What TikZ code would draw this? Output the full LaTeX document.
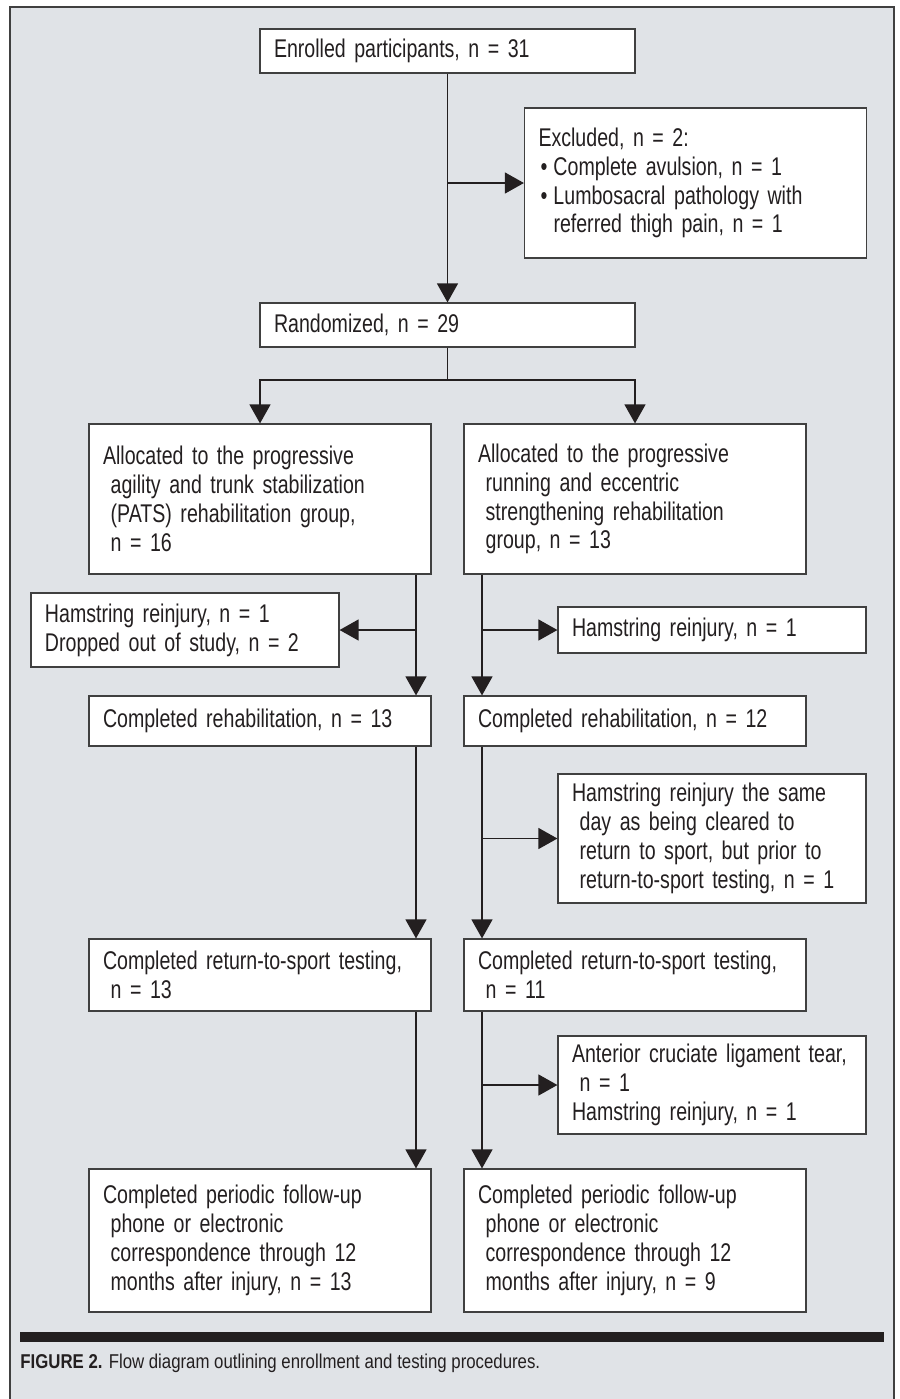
\documentclass[tikz,border=0pt]{standalone}
\usepackage{fontspec}
\setmainfont{Liberation Sans}[FakeStretch=0.765]
\newfontfamily\legfont{Liberation Sans}[FakeStretch=0.84]
\usetikzlibrary{arrows.meta,calc}

\definecolor{fond}{RGB}{224,227,231}
\definecolor{trait}{RGB}{35,31,32}
\definecolor{bord}{RGB}{64,64,64}
\newcommand{\lpad}{\hspace*{.3em}}
\newcommand{\puce}{\hspace*{1pt}\makebox[6.5pt][l]{•}}

\begin{document}
\begin{tikzpicture}[x=0.5pt,y=-0.5pt,>={Triangle[length=9.5pt,width=10.5pt]},
	boite/.style={draw=bord,line width=0.6pt,fill=white,text=trait,align=left,
		inner xsep=7pt,inner ysep=0pt,font=\fontsize{12.8}{14.4}\selectfont},
	large/.style={boite,text width=173.5pt},
	moyen/.style={boite,text width=157pt},
	petit/.style={boite,text width=140pt},
	fleche/.style={draw=trait,line width=0.65pt}]
			          %pixels de l'image : x vers la droite, y vers le bas
			          %\draw[help lines] (0,0) grid[step=100] (900,1399);
			          \useasboundingbox (0,0) rectangle (900,1399);
			          \draw[draw=bord,fill=fond,line width=0.6pt] (10,7) rectangle (894,1420);
			          
			          \node[large,minimum height=22pt] (enr) at (447.5,51) {Enrolled participants, n = 31};
			          \node[moyen,minimum height=75pt] (excl) at (695.5,183) {Excluded, n = 2:\\
			          	\puce Complete avulsion, n = 1\\
			          	\puce Lumbosacral pathology with\\
			          	\hspace*{7.5pt}referred thigh pain, n = 1};
			          \node[large,minimum height=22pt] (rand) at (447.5,325) {Randomized, n = 29};
			          
			          % groupe PATS (gauche)
			          \node[moyen,minimum height=75pt] (allocA) at (260,499) {Allocated to the progressive\\
			          	\lpad agility and trunk stabilization\\ \lpad (PATS) rehabilitation group,\\ \lpad n = 16};
			          \node[petit,minimum height=37pt] (dropA) at (185,630) {Hamstring reinjury, n = 1\\ Dropped out of study, n = 2};
			          \node[moyen,minimum height=25pt] (rehabA) at (260,721) {Completed rehabilitation, n = 13};
			          \node[moyen,minimum height=36pt] (rtsA) at (260,975) {Completed return-to-sport testing,\\ \lpad n = 13};
			          \node[moyen,minimum height=71.5pt] (fupA) at (260,1240.5) {Completed periodic follow-up\\
			          	\lpad phone or electronic\\ \lpad correspondence through 12\\ \lpad months after injury, n = 13};
			          
			          % groupe course (droite)
			          \node[moyen,minimum height=75pt] (allocB) at (635,499) {Allocated to the progressive\\
			          	\lpad running and eccentric\\ \lpad strengthening rehabilitation\\ \lpad group, n = 13};
			          \node[petit,minimum height=23pt] (dropB) at (712,630) {Hamstring reinjury, n = 1};
			          \node[moyen,minimum height=25pt] (rehabB) at (635,721) {Completed rehabilitation, n = 12};
			          \node[petit,minimum height=64.5pt] (sameB) at (712,838.5) {Hamstring reinjury the same\\
			          	\lpad day as being cleared to\\ \lpad return to sport, but prior to\\ \lpad return-to-sport testing, n = 1};
			          \node[moyen,minimum height=36pt] (rtsB) at (635,975) {Completed return-to-sport testing,\\ \lpad n = 11};
			          \node[petit,minimum height=49pt] (aclB) at (712,1085) {Anterior cruciate ligament tear,\\ \lpad n = 1\\ Hamstring reinjury, n = 1};
			          \node[moyen,minimum height=71.5pt] (fupB) at (635,1240.5) {Completed periodic follow-up\\
			          	\lpad phone or electronic\\ \lpad correspondence through 12\\ \lpad months after injury, n = 9};
			          
			          \coordinate (sep) at (447.5,380);
			          \coordinate (gA) at (416,0);
			          \coordinate (gB) at (482,0);
			          
			          \draw[fleche,->] (enr.south) -- (rand.north);
			          \draw[fleche,->] (excl.west -| enr.south) -- (excl.west);
			          \draw[fleche] (rand.south) -- (sep);
			          \draw[fleche,->] (sep) -| (allocA.north);
			          \draw[fleche,->] (sep) -| (allocB.north);
			          
			          \draw[fleche,->] (allocA.south -| gA) -- (rehabA.north -| gA);
			          \draw[fleche,->] (dropA.east -| gA) -- (dropA.east);
			          \draw[fleche,->] (rehabA.south -| gA) -- (rtsA.north -| gA);
			          \draw[fleche,->] (rtsA.south -| gA) -- (fupA.north -| gA);
			          
			          \draw[fleche,->] (allocB.south -| gB) -- (rehabB.north -| gB);
			          \draw[fleche,->] (dropB.west -| gB) -- (dropB.west);
			          \draw[fleche,->] (rehabB.south -| gB) -- (rtsB.north -| gB);
			          \draw[fleche,->] (sameB.west -| gB) -- (sameB.west);
			          \draw[fleche,->] (rtsB.south -| gB) -- (fupB.north -| gB);
			          \draw[fleche,->] (aclB.west -| gB) -- (aclB.west);
			          
			          \fill[trait] (20,1332) rectangle (884,1342);
			          \node[anchor=base west,inner sep=0pt,text=trait,font=\legfont\fontsize{10}{12}\selectfont] (legende) at (20,1368)
			          	{\textbf{FIGURE 2.} Flow diagram outlining enrollment and testing procedures.};
				  \end{tikzpicture}
\end{document}
